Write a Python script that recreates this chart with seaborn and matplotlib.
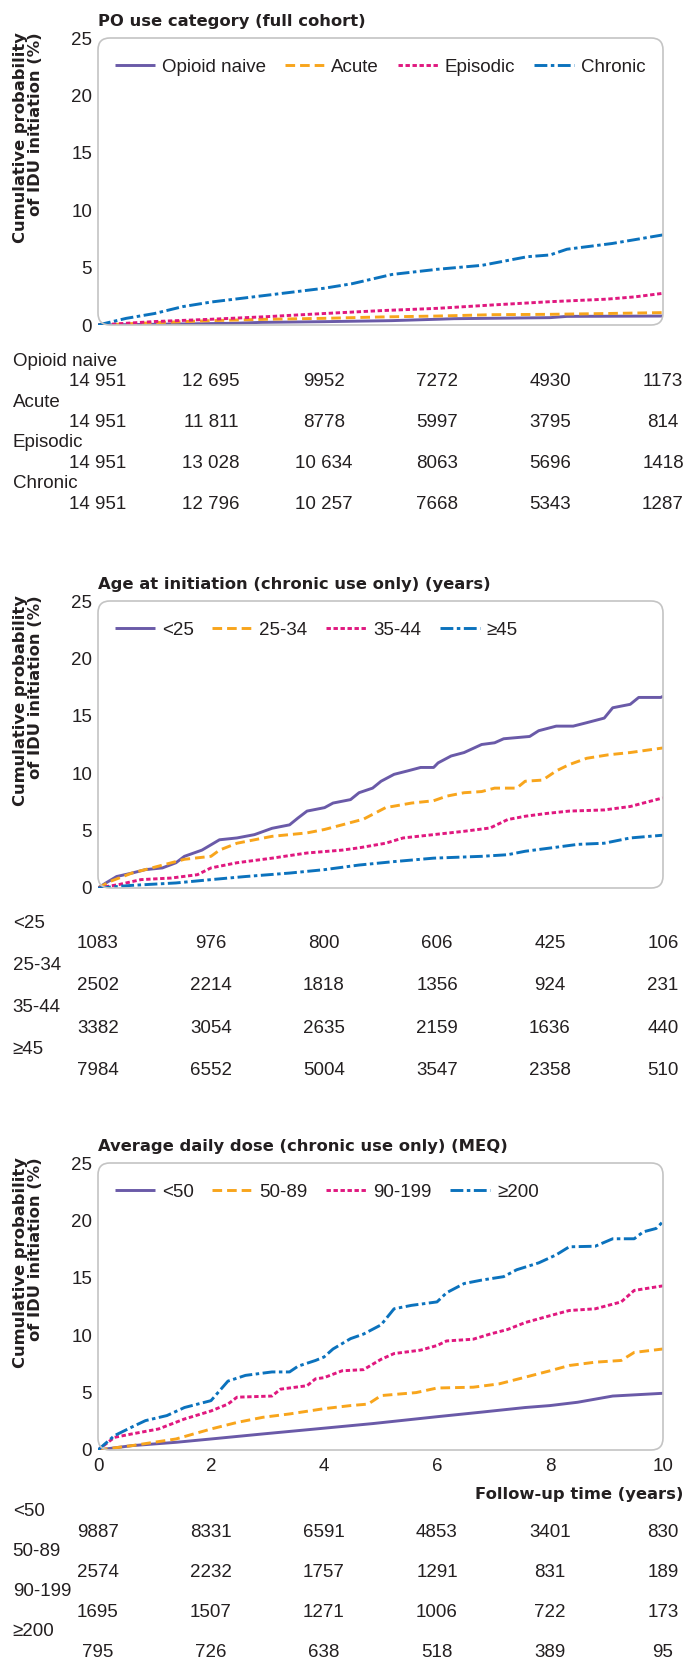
import matplotlib
matplotlib.use("Agg")
import matplotlib.pyplot as plt
import seaborn as sns
import pandas as pd
from matplotlib.patches import FancyBboxPatch
from matplotlib.transforms import blended_transform_factory

# ---------------- data ----------------
titles = ["PO use category (full cohort)",
          "Age at initiation (chronic use only) (years)",
          "Average daily dose (chronic use only) (MEQ)"]

# Panel 1
p1_labels = ["Opioid naive", "Acute", "Episodic", "Chronic"]
p1_naive_t = [0, 0.8, 2.4, 2.9, 4.0, 5.2, 6.0, 6.3, 8.0, 8.3, 10.0]
p1_naive_v = [0, 0.05, 0.15, 0.23, 0.29, 0.38, 0.5, 0.55, 0.64, 0.75, 0.78]
p1_acute_t = [0, 1.0, 2.0, 3.0, 4.0, 5.0, 6.0, 7.0, 8.0, 9.0, 10.0]
p1_acute_v = [0, 0.2, 0.38, 0.5, 0.58, 0.7, 0.78, 0.9, 0.93, 1.0, 1.08]
p1_epis_t = [0, 1, 2, 3, 4, 5, 6, 7, 8, 9, 9.5, 10]
p1_epis_v = [0, 0.3, 0.5, 0.73, 1.0, 1.25, 1.45, 1.75, 2.03, 2.25, 2.45, 2.76]
p1_chron_t = [0, 0.5, 1, 1.5, 2, 2.5, 3, 4, 4.5, 5.2, 6, 6.8, 7.6, 8, 8.3, 9.1, 10]
p1_chron_v = [0, 0.58, 1.0, 1.6, 2.0, 2.3, 2.6, 3.2, 3.6, 4.4, 4.85, 5.2, 5.95, 6.1, 6.6, 7.1, 7.85]
p1_risk = [[14951, 12695, 9952, 7272, 4930, 1173],
           [14951, 11811, 8778, 5997, 3795, 814],
           [14951, 13028, 10634, 8063, 5696, 1418],
           [14951, 12796, 10257, 7668, 5343, 1287]]

# Panel 2
p2_labels = ["<25", "25-34", "35-44", "\u226545"]
p2_a_t = [0, 0.14, 0.33, 0.60, 0.84, 1.14, 1.38, 1.53, 1.84, 2.15, 2.46, 2.77, 3.08, 3.39, 3.54,
          3.70, 4.01, 4.16, 4.47, 4.62, 4.86, 5.01, 5.24, 5.48, 5.71, 5.94, 6.02, 6.25, 6.48,
          6.79, 7.02, 7.18, 7.64, 7.80, 8.11, 8.41, 8.65, 8.96, 9.11, 9.42, 9.57, 9.96, 10.0]
p2_a_v = [0, 0.44, 1.0, 1.3, 1.6, 1.75, 2.2, 2.76, 3.3, 4.2, 4.36, 4.65, 5.2, 5.5, 6.1,
          6.7, 7.0, 7.4, 7.7, 8.3, 8.7, 9.3, 9.9, 10.2, 10.5, 10.5, 10.9, 11.5, 11.8,
          12.5, 12.65, 13.0, 13.2, 13.7, 14.1, 14.1, 14.4, 14.8, 15.7, 16.0, 16.6, 16.6, 16.7]
p2_b_t = [0, 0.22, 0.60, 1.07, 1.53, 2.0, 2.15, 2.46, 3.08, 3.70, 4.01, 4.32, 4.70, 5.09,
          5.55, 5.94, 6.17, 6.48, 6.79, 7.02, 7.41, 7.56, 7.87, 8.11, 8.34, 8.65, 9.03, 9.42, 10.0]
p2_b_v = [0, 0.58, 1.3, 1.9, 2.5, 2.76, 3.3, 3.9, 4.5, 4.8, 5.1, 5.5, 6.0, 7.0,
          7.4, 7.6, 8.0, 8.3, 8.4, 8.7, 8.7, 9.3, 9.4, 10.2, 10.75, 11.3, 11.6, 11.8, 12.2]
p2_c_t = [0, 0.37, 0.76, 1.30, 1.76, 2.0, 2.46, 3.08, 3.70, 4.32, 4.62, 5.09, 5.40, 5.94,
          6.48, 6.94, 7.25, 7.56, 7.95, 8.34, 8.96, 9.42, 10.0]
p2_c_v = [0, 0.3, 0.73, 0.87, 1.16, 1.75, 2.2, 2.6, 3.05, 3.3, 3.5, 3.9, 4.36, 4.65,
          4.94, 5.23, 5.96, 6.25, 6.5, 6.7, 6.8, 7.1, 7.85]
p2_d_t = [0, 0.60, 1.38, 2.0, 2.61, 3.39, 4.01, 4.62, 5.24, 5.94, 6.79, 7.25, 7.56, 8.03,
          8.49, 8.96, 9.42, 10.0]
p2_d_v = [0, 0.23, 0.44, 0.73, 1.0, 1.3, 1.6, 2.0, 2.3, 2.6, 2.76, 2.9, 3.2, 3.5,
          3.8, 3.9, 4.36, 4.6]
p2_risk = [[1083, 976, 800, 606, 425, 106],
           [2502, 2214, 1818, 1356, 924, 231],
           [3382, 3054, 2635, 2159, 1636, 440],
           [7984, 6552, 5004, 3547, 2358, 510]]

# Panel 3
p3_labels = ["<50", "50-89", "90-199", "\u2265200"]
p3_a_t = [0, 0.60, 1.38, 2.0, 2.92, 4.0, 4.86, 6.0, 6.79, 7.56, 8.0, 8.49, 9.11, 10.0]
p3_a_v = [0, 0.38, 0.67, 0.96, 1.4, 1.9, 2.3, 2.9, 3.3, 3.7, 3.87, 4.16, 4.7, 4.94]
p3_b_t = [0, 0.60, 1.38, 2.0, 2.46, 2.92, 3.39, 4.0, 4.47, 4.78, 5.01, 5.63, 6.0, 6.64,
          7.10, 7.56, 8.0, 8.34, 8.80, 9.26, 9.49, 10.0]
p3_b_v = [0, 0.38, 0.96, 1.83, 2.4, 2.85, 3.14, 3.6, 3.87, 4.0, 4.74, 5.0, 5.4, 5.47,
          5.76, 6.34, 6.9, 7.36, 7.65, 7.8, 8.5, 8.8]
p3_c_t = [0, 0.29, 0.60, 1.07, 1.53, 2.0, 2.30, 2.46, 3.08, 3.23, 3.70, 3.85, 4.0, 4.32,
          4.70, 5.01, 5.24, 5.71, 6.0, 6.17, 6.64, 6.94, 7.25, 7.56, 8.0, 8.34, 8.80,
          9.26, 9.49, 10.0]
p3_c_v = [0, 1.1, 1.4, 1.83, 2.7, 3.4, 4.0, 4.6, 4.7, 5.3, 5.6, 6.2, 6.3, 6.9,
          7.0, 7.9, 8.4, 8.7, 9.1, 9.5, 9.65, 10.1, 10.5, 11.1, 11.7, 12.15, 12.3,
          12.9, 13.9, 14.3]
p3_d_t = [0, 0.29, 0.60, 0.84, 1.22, 1.53, 2.0, 2.30, 2.61, 3.08, 3.39, 3.54, 3.85, 4.0,
          4.16, 4.47, 4.70, 5.01, 5.24, 5.55, 6.0, 6.17, 6.48, 6.79, 7.18, 7.41, 7.80,
          8.11, 8.34, 8.80, 9.11, 9.49, 9.65, 9.88, 10.0]
p3_d_v = [0, 1.25, 2.0, 2.56, 3.0, 3.7, 4.3, 6.0, 6.5, 6.8, 6.8, 7.3, 7.8, 8.1,
          8.8, 9.7, 10.1, 10.9, 12.3, 12.6, 12.9, 13.7, 14.5, 14.8, 15.1, 15.7, 16.3,
          17.0, 17.7, 17.75, 18.4, 18.4, 19.0, 19.3, 19.9]
p3_risk = [[9887, 8331, 6591, 4853, 3401, 830],
           [2574, 2232, 1757, 1291, 831, 189],
           [1695, 1507, 1271, 1006, 722, 173],
           [795, 726, 638, 518, 389, 95]]

risk_times = [0, 2, 4, 6, 8, 10]
y_ticks = [0, 5, 10, 15, 20, 25]
grid_levels = [5, 10, 15, 20]
x_ticks = [0, 2, 4, 6, 8, 10]
inner_ticks = [2, 4, 6, 8]

# ---------------- styling ----------------
colors = ["#6a5aa8", "#f8a51c", "#e0187f", "#0b72bd"]
dash_styles = [None, (3.3, 1.7), (1.5, 0.9), (4.4, 1.2, 1.2, 1.2)]
TXT = "#231f20"
FRAME = "#c4c4c4"

sns.set_theme(style="white")
plt.rcParams["font.family"] = ["Liberation Sans", "DejaVu Sans"]

W, H = 687, 1677
fig = plt.figure(figsize=(W / 100, H / 100), dpi=100)

AX_L, AX_R = 98, 663
panel_tops = [38, 601, 1163]
AX_H = 287
table_starts = [361.5, 923, 1512]
table_steps = [40.7, 42.3, 40.0]

panels = [
    (p1_labels, [(p1_naive_t, p1_naive_v), (p1_acute_t, p1_acute_v),
                 (p1_epis_t, p1_epis_v), (p1_chron_t, p1_chron_v)], p1_risk),
    (p2_labels, [(p2_a_t, p2_a_v), (p2_b_t, p2_b_v), (p2_c_t, p2_c_v), (p2_d_t, p2_d_v)], p2_risk),
    (p3_labels, [(p3_a_t, p3_a_v), (p3_b_t, p3_b_v), (p3_c_t, p3_c_v), (p3_d_t, p3_d_v)], p3_risk),
]

FS = 13.5
TITLE_FS = 11.8

for i, (labels, series, risk) in enumerate(panels):
    top = panel_tops[i]
    ax = fig.add_axes([AX_L / W, 1 - (top + AX_H) / H, (AX_R - AX_L) / W, AX_H / H])
    for j, (lab, (t, v)) in enumerate(zip(labels, series)):
        df = pd.DataFrame({"t": t, "v": v})
        sns.lineplot(data=df, x="t", y="v", ax=ax, color=colors[j], lw=2.1,
                     label=lab, estimator=None, sort=False)
        ln = ax.lines[-1]
        if dash_styles[j] is not None:
            ln.set_dashes(dash_styles[j])
        ln.set_solid_capstyle("butt")
        ln.set_dash_capstyle("butt")
    ax.set_xlim(0, 10)
    ax.set_ylim(0, 25)
    ax.set_xlabel("")
    ax.set_ylabel("")
    for s in ax.spines.values():
        s.set_visible(False)
    ax.set_yticks(y_ticks)
    ax.set_yticks(grid_levels, minor=True)
    ax.set_xticks(x_ticks)
    ax.set_xticks(inner_ticks, minor=True)
    ax.grid(False)
    ax.grid(which="minor", axis="y", color="#c9c9c9", lw=1.1)
    ax.tick_params(axis="y", which="both", length=0, labelsize=FS, labelcolor=TXT, pad=4.3)
    ax.tick_params(axis="x", which="major", length=0, labelsize=FS, labelcolor=TXT, pad=5.8,
                   labelbottom=(i == 2))
    ax.tick_params(axis="x", which="minor", direction="in", length=7, width=1.1,
                   color=FRAME, bottom=True)
    frame = FancyBboxPatch((0, 0), 1, 1, boxstyle="round,pad=0,rounding_size=0.021",
                           mutation_aspect=(AX_R - AX_L) / AX_H, transform=ax.transAxes,
                           fill=False, ec=FRAME, lw=1.2, clip_on=False, zorder=5)
    ax.add_patch(frame)

    handles, labs = ax.get_legend_handles_labels()
    ax.legend(handles, labs, ncol=4, loc="center left", bbox_to_anchor=(0.030, 0.898),
              frameon=False, fontsize=FS, handlelength=2.13, handletextpad=0.37,
              columnspacing=1.0, borderpad=0, borderaxespad=0, labelcolor=TXT)

    ax.set_title(titles[i], loc="left", pad=8.6, fontsize=TITLE_FS, fontweight="bold",
                 family="DejaVu Sans", color=TXT)

    fig.text(28 / W, 1 - (top + 100) / H, "Cumulative probability\nof IDU initiation (%)",
             rotation=90, ha="center", va="center", multialignment="right",
             family="DejaVu Sans", fontweight="bold", fontsize=TITLE_FS, linespacing=1.0,
             color=TXT)

    # number-at-risk table
    tr = blended_transform_factory(ax.transData, fig.transFigure)
    for k, lab in enumerate(labels):
        yl = table_starts[i] + table_steps[i] * k
        fig.text(12.7 / W, 1 - yl / H, lab, ha="left", va="center", fontsize=FS, color=TXT)
        yn = yl + 20.5
        for tt, n in zip(risk_times, risk[k]):
            s = f"{n:,}".replace(",", " ") if n >= 10000 else str(n)
            fig.text(tt, 1 - yn / H, s, ha="center", va="center", fontsize=FS,
                     color=TXT, transform=tr)

fig.text(683 / W, 1 - 1494 / H, "Follow-up time (years)", ha="right", va="center",
         family="DejaVu Sans", fontweight="bold", fontsize=TITLE_FS, color=TXT)

fig.savefig("out.png", dpi=100, facecolor="white")
